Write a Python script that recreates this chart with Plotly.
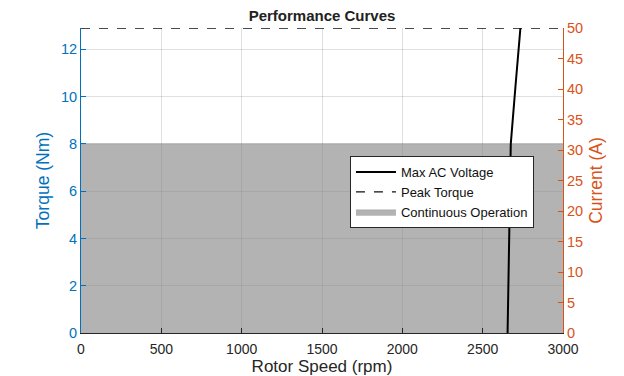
import plotly.graph_objects as go

# Data
cont_speed = [0, 3000]
cont_torque = [8, 8]
peak_speed = [0, 3000]
peak_torque = [12.9, 12.9]
maxv_torque = [0, 4, 8, 10.5, 12.9]
maxv_speed = [2655, 2664, 2675, 2705, 2735]

BLUE = "#0072BD"
ORANGE = "#D95319"
FONT = "Liberation Sans, Arial, sans-serif"

fig = go.Figure()
fig.add_trace(go.Scatter(x=cont_speed, y=cont_torque, mode="lines", fill="tozeroy",
                         fillcolor="rgba(128,128,128,0.6)", line=dict(color="rgba(128,128,128,0.6)", width=0.5),
                         name="Continuous Operation", legendrank=3))
fig.add_trace(go.Scatter(x=maxv_speed, y=maxv_torque, mode="lines",
                         line=dict(color="black", width=2), name="Max AC Voltage", legendrank=1))
fig.add_trace(go.Scatter(x=peak_speed, y=peak_torque, mode="lines",
                         line=dict(color="#111111", width=1.3, dash="dash"), name="Peak Torque", legendrank=2))
# dummy trace to activate right axis
fig.add_trace(go.Scatter(x=[None], y=[None], yaxis="y2", showlegend=False))

fig.update_layout(
    width=624, height=376,
    margin=dict(l=81, r=61, t=28, b=43),
    plot_bgcolor="white", paper_bgcolor="white",
    font=dict(family=FONT, size=14, color="#262626"),
    title=dict(text="<b>Performance Curves</b>", x=0.5, xref="paper", xanchor="center",
               y=0.972, yanchor="top", font=dict(size=15, color="#222222")),
    xaxis=dict(range=[0, 3000], dtick=500, ticks="inside", ticklen=5, tickcolor="#262626",
               showline=True, linecolor="#262626", linewidth=1, automargin=False,
               showgrid=True, gridcolor="rgba(0,0,0,0.12)", zeroline=False,
               layer="above traces", tickfont=dict(size=14, color="#262626"),
               ticklabelstandoff=3,
               title=dict(text="Rotor Speed (rpm)", font=dict(size=17, color="#262626"), standoff=1)),
    yaxis=dict(range=[0, 12.9], dtick=2, ticks="inside", ticklen=5, tickcolor=BLUE,
               showline=True, linecolor=BLUE, linewidth=1, color=BLUE, automargin=False,
               showgrid=True, gridcolor="rgba(0,0,0,0.12)", zeroline=False,
               layer="above traces",
               tickfont=dict(color=BLUE, size=14.5),
               title=dict(text="Torque (Nm)", font=dict(size=17.5, color=BLUE), standoff=6)),
    yaxis2=dict(range=[0, 50], dtick=5, overlaying="y", side="right", automargin=False,
                ticks="inside", ticklen=5, tickcolor=ORANGE,
                showline=True, linecolor=ORANGE, linewidth=1, showgrid=False, zeroline=False,
                tickfont=dict(color=ORANGE, size=14.5),
                title=dict(text="Current (A)", font=dict(size=17.5, color=ORANGE), standoff=7)),
    legend=dict(x=0.558, y=0.58, xanchor="left", yanchor="top",
                bgcolor="white", bordercolor="#262626", borderwidth=1,
                font=dict(size=13, color="#111111"), tracegroupgap=0,
                itemwidth=40, traceorder="normal"),
    showlegend=True,
)

fig.write_html("out.html", config={"displayModeBar": False},
               post_script="document.body.style.margin='0';")
